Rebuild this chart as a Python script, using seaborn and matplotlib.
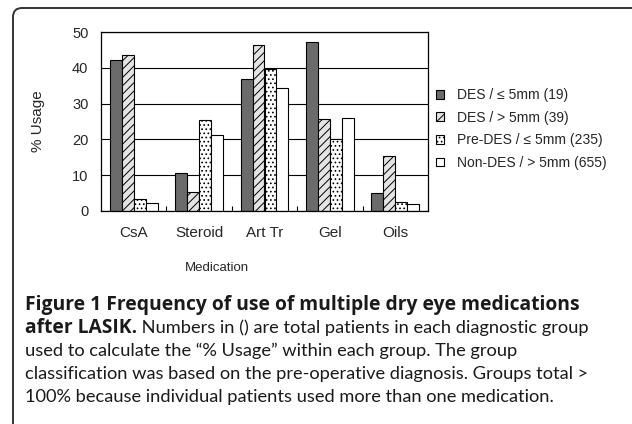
import matplotlib
matplotlib.use("Agg")
import matplotlib.pyplot as plt
import matplotlib.transforms as mtransforms
from matplotlib.patches import FancyBboxPatch
from matplotlib.ticker import FixedLocator
import seaborn as sns
import pandas as pd

medications = ["CsA", "Steroid", "Art Tr", "Gel", "Oils"]
groups = ["DES / \u2264 5mm (19)", "DES / > 5mm (39)",
          "Pre-DES / \u2264 5mm (235)", "Non-DES / > 5mm (655)"]
des_small = [42.2, 10.5, 37.0, 47.3, 5.1]
des_large = [43.6, 5.2, 46.3, 25.6, 15.4]
pre_des_small = [3.4, 25.5, 39.8, 20.2, 2.5]
non_des_large = [2.2, 21.1, 34.3, 26.1, 2.0]
y_ticks = [0, 10, 20, 30, 40, 50]

caption_bold_1 = "Figure 1 Frequency of use of multiple dry eye medications"
caption_bold_2 = "after LASIK."
caption_rest_2 = " Numbers in () are total patients in each diagnostic group"
caption_lines = [
    "used to calculate the \u201c% Usage\u201d within each group. The group",
    "classification was based on the pre-operative diagnosis. Groups total >",
    "100% because individual patients used more than one medication.",
]

series = [des_small, des_large, pre_des_small, non_des_large]
rows = []
for g, vals in zip(groups, series):
    for m, v in zip(medications, vals):
        rows.append({"Medication": m, "Group": g, "Usage": v})
df = pd.DataFrame(rows)

sns.set_style("white")
plt.rcParams["font.family"] = ["Liberation Sans", "DejaVu Sans"]
plt.rcParams["hatch.linewidth"] = 0.7

W, H = 632, 424
fig = plt.figure(figsize=(W / 100, H / 100), dpi=100)
ax = fig.add_axes([101 / W, 1 - 211 / H, 327 / W, 179 / H])

face = ["#6b6b6b", "#e4e4e4", "white", "white"]
hatches = [None, "////", "....", None]

sns.barplot(data=df, x="Medication", y="Usage", hue="Group",
            order=medications, hue_order=groups, palette=face,
            saturation=1, width=0.73, edgecolor="black", linewidth=0.8,
            legend=False, ax=ax, errorbar=None)

for cont, h, fc in zip(ax.containers, hatches, face):
    for p in cont:
        p.set_facecolor(fc)
        p.set_edgecolor("black")
        p.set_linewidth(0.8)
        if h:
            p.set_hatch(h)

ax.set_xlim(-0.5, len(medications) - 0.5)
ax.set_ylim(0, 50)
ax.set_yticks(y_ticks)
ax.yaxis.grid(True, color="black", linewidth=0.8)
ax.set_axisbelow(True)
for s in ax.spines.values():
    s.set_color("black")
    s.set_linewidth(0.9)
    s.set_visible(True)

ax.tick_params(axis="y", length=0, pad=9, labelsize=10.5)
ax.tick_params(axis="x", which="major", length=0, pad=11, labelsize=11)
ax.xaxis.set_minor_locator(FixedLocator([i + 0.5 for i in range(len(medications) - 1)]))
ax.tick_params(axis="x", which="minor", direction="in", length=3.5, width=0.8,
               bottom=True, top=False, color="black")

ax.set_ylabel("% Usage", fontsize=11)
ax.yaxis.set_label_coords(-0.171, 0.5)
ax.set_xlabel("Medication", fontsize=9.5)
ax.xaxis.set_label_coords((217 - 101) / 327, (211 - 268) / 179)
ax.xaxis.label.set_va("center")

leg = ax.legend(handles=list(ax.containers), labels=groups,
                loc="center left", bbox_to_anchor=(436 / W, 1 - 129 / H),
                bbox_transform=fig.transFigure, frameon=False,
                fontsize=10, handlelength=0.6, handleheight=0.6,
                handletextpad=0.9, labelspacing=0.62, borderpad=0,
                borderaxespad=0)

# frame
frame = FancyBboxPatch((13, -60), 700, H - 8 + 60,
                       boxstyle="round,pad=0,rounding_size=9",
                       transform=mtransforms.IdentityTransform(),
                       facecolor="none", edgecolor="#333333", linewidth=1.4)
fig.patches.append(frame)

# caption
bold_font = ["Open Sans", "DejaVu Sans"]
reg_font = ["Lato", "DejaVu Sans"]
renderer = fig.canvas.get_renderer()
x0 = 25 / W
col = "#1a1a1a"
line_y = [305, 328, 351, 374, 397]

t = fig.text(x0, 1 - line_y[0] / H, caption_bold_1, fontweight="bold",
             family=bold_font, fontsize=12, va="center", color=col)
fsb = 12 * 553 / t.get_window_extent(renderer).width
t.set_fontsize(fsb)

probe = fig.text(x0, 1 - line_y[3] / H, caption_lines[1], family=reg_font,
                 fontsize=12, va="center", color=col)
fsr = 12 * 560 / probe.get_window_extent(renderer).width
probe.set_fontsize(fsr)

tb = fig.text(x0, 1 - line_y[1] / H, caption_bold_2, fontweight="bold",
              family=bold_font, fontsize=fsb, va="center", color=col)
bw = tb.get_window_extent(renderer).width
fig.text(x0 + bw / W, 1 - line_y[1] / H, caption_rest_2, family=reg_font,
         fontsize=fsr, va="center", color=col)
fig.text(x0, 1 - line_y[2] / H, caption_lines[0], family=reg_font,
         fontsize=fsr, va="center", color=col)
fig.text(x0, 1 - line_y[4] / H, caption_lines[2], family=reg_font,
         fontsize=fsr, va="center", color=col)

fig.savefig("out.png", dpi=100)
